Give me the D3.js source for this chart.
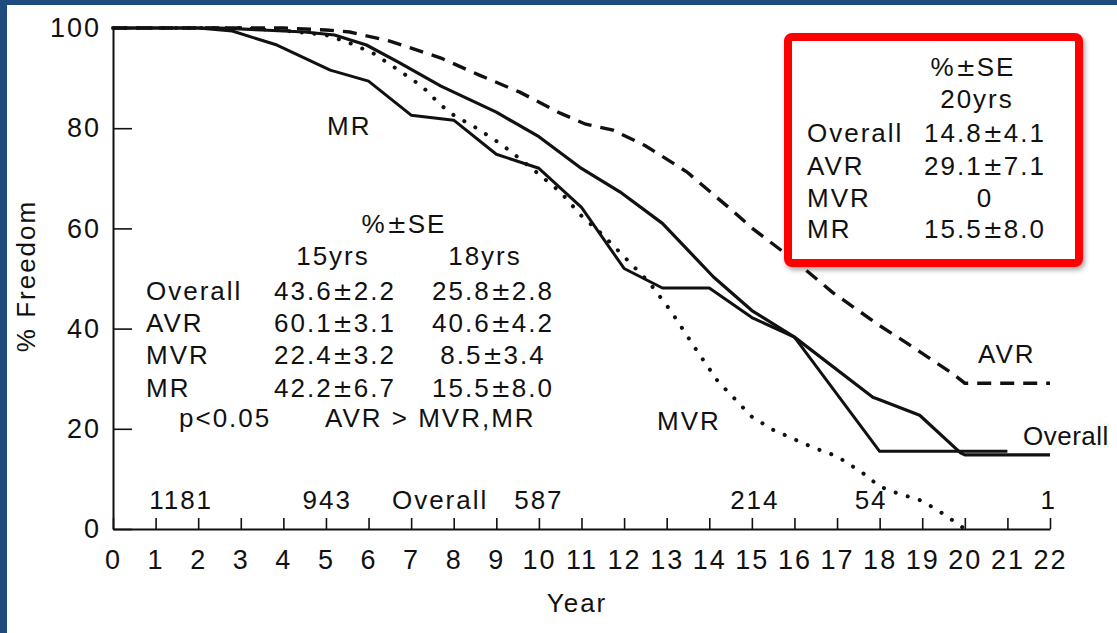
<!DOCTYPE html>
<html>
<head>
<meta charset="utf-8">
<script src="https://cdn.jsdelivr.net/npm/d3@7"></script>
<style>
  html, body { margin: 0; padding: 0; background: #fff; }
  svg text {
    font-family: "Liberation Sans", Arial, Helvetica, sans-serif;
    font-size: 26px;
    fill: #111;
    letter-spacing: 2px;
  }
  svg text .pm { font-family: "DejaVu Sans", sans-serif; font-size: 24px; letter-spacing: 1px; }
</style>
</head>
<body>
<svg id="chart" width="1117" height="633"></svg>
<script>
// ---- data ----------------------------------------------------------------
const yearTicks = d3.range(0, 23);
const pctTicks = [0, 20, 40, 60, 80, 100];

// Kaplan-Meier style freedom curves: [year, % freedom]
const overallCurve = [
  [0, 100], [2.5, 100], [3.5, 99.6], [4.5, 99.2], [5.2, 98.6], [5.95, 96.6],
  [6.7, 93.2], [7.7, 88.4], [9, 83.2], [10, 78.3], [10.96, 72.2], [11.9, 67.3],
  [12.9, 61], [14.1, 50.3], [15, 43.6], [16, 38.3], [17.84, 26.3], [18, 25.8],
  [18.94, 22.7], [19.9, 15.2], [20, 14.8], [22, 14.8]
];
const avrCurve = [
  [0, 100], [4, 100], [5, 99.6], [5.56, 99.2], [6.5, 97.4], [7.7, 94],
  [8.6, 90.6], [9.55, 87.2], [10.5, 83], [11.1, 80.8], [11.74, 79.6],
  [12.5, 76.5], [13.47, 71.3], [14.48, 64], [15, 60.1], [16, 53.6],
  [16.9, 47.2], [18, 40.6], [18.64, 37.1], [19.7, 31.1], [20, 29.1], [22, 29.1]
];
const mvrCurve = [
  [0, 100], [3, 100], [4, 99.5], [5, 98.6], [5.5, 97.2], [6.1, 95], [6.7, 91.6],
  [7.25, 88.4], [7.7, 84.6], [8, 82.6], [8.5, 80.2], [9.08, 77], [9.36, 75.2],
  [9.83, 72], [10.5, 67.3], [11, 62.5], [11.5, 58.7], [12.1, 53.5], [12.6, 49.1],
  [13.1, 43.5], [13.7, 35.7], [14.2, 29.5], [15, 22.4], [15.5, 19.8],
  [16.4, 16.4], [17, 14.5], [17.6, 11.2], [18, 8.5], [18.4, 7.2], [19, 5.6],
  [19.5, 3], [20, 0]
];
const mrCurve = [
  [0, 100], [2, 100], [2.8, 99.4], [3.85, 96.6], [5.1, 91.6], [6, 89.4],
  [7, 82.6], [8, 81.6], [9, 74.8], [10, 72], [11, 64.2], [12, 52],
  [12.9, 48.1], [14, 48.1], [15, 42.2], [16, 38.3], [18, 15.5], [21, 15.5]
];

// numbers at risk along the bottom
const atRiskYear = [1.6, 5.03, 7.68, 10.0, 15.07, 17.8, 21.97];
const atRiskText = ["1181", "943", "Overall", "587", "214", "54", "1"];

// summary tables
const groupNames = ["Overall", "AVR", "MVR", "MR"];
const se15yrs = ["43.6±2.2", "60.1±3.1", "22.4±3.2", "42.2±6.7"];
const se18yrs = ["25.8±2.8", "40.6±4.2", "8.5±3.4", "15.5±8.0"];
const se20yrs = ["14.8±4.1", "29.1±7.1", "0", "15.5±8.0"];

// ---- drawing -------------------------------------------------------------
const svg = d3.select("#chart");

const defs = svg.append("defs");
const shadow = defs.append("filter").attr("id", "boxShadow")
  .attr("x", "-10%").attr("y", "-10%").attr("width", "130%").attr("height", "130%");
shadow.append("feDropShadow")
  .attr("dx", 2).attr("dy", 3).attr("stdDeviation", 2.5)
  .attr("flood-color", "#000").attr("flood-opacity", 0.35);

// slide frame
svg.append("rect").attr("x", 0).attr("y", 0).attr("width", 1117).attr("height", 5).attr("fill", "#1f4b7f");
svg.append("rect").attr("x", 0).attr("y", 0).attr("width", 7).attr("height", 633).attr("fill", "#1f4b7f");

const x = d3.scaleLinear().domain([0, 22]).range([113, 1050]);
const y = d3.scaleLinear().domain([0, 100]).range([529, 28]);

// axes
const xAxis = d3.axisBottom(x).tickValues(yearTicks).tickFormat(d3.format("d"))
  .tickSizeInner(-11).tickSizeOuter(0).tickPadding(21);
const gx = svg.append("g").attr("transform", `translate(0,${y(0)})`).call(xAxis);
gx.select(".domain").attr("stroke", "#111").attr("stroke-width", 2);
gx.selectAll(".tick line").attr("stroke", "#111").attr("stroke-width", 1.6);

const yAxis = d3.axisLeft(y).tickValues(pctTicks).tickFormat(d3.format("d"))
  .tickSizeInner(-19).tickSizeOuter(0).tickPadding(12);
const gy = svg.append("g").attr("transform", `translate(${x(0)},0)`).call(yAxis);
gy.select(".domain").attr("stroke", "#111").attr("stroke-width", 2);
gy.selectAll(".tick line").attr("stroke", "#111").attr("stroke-width", 1.6);

svg.selectAll("g").attr("font-family", null).attr("font-size", null);
svg.selectAll(".tick text").attr("fill", "#111").style("font-size", "27px");

// axis titles
svg.append("text").attr("x", 577).attr("y", 612).attr("text-anchor", "middle").text("Year");
svg.append("text").attr("transform", "translate(35,276) rotate(-90)")
  .attr("text-anchor", "middle").text("% Freedom");

// curves
const line = d3.line().x(d => x(d[0])).y(d => y(d[1]));
const curves = svg.append("g").attr("fill", "none").attr("stroke", "#111");
curves.append("path").datum(mvrCurve).attr("d", line)
  .attr("stroke-width", 4).attr("stroke-linecap", "round").attr("stroke-dasharray", "0.1 12.5");
curves.append("path").datum(avrCurve).attr("d", line)
  .attr("stroke-width", 3.4).attr("stroke-dasharray", "14 9");
curves.append("path").datum(mrCurve).attr("d", line)
  .attr("stroke-width", 3).attr("stroke-linejoin", "round");
curves.append("path").datum(overallCurve).attr("d", line)
  .attr("stroke-width", 3.2).attr("stroke-linejoin", "round");

// curve names
svg.append("text").attr("x", 327).attr("y", 135).text("MR");
svg.append("text").attr("x", 657).attr("y", 430).text("MVR");
svg.append("text").attr("x", 978).attr("y", 363).text("AVR");
svg.append("text").attr("x", 1023).attr("y", 445).style("letter-spacing", "0.5px").text("Overall");

// numbers at risk
svg.append("g").selectAll("text").data(atRiskText).join("text")
  .attr("x", (d, i) => x(atRiskYear[i]))
  .attr("y", 509)
  .attr("text-anchor", "middle")
  .text(d => d);

// text helper: renders "±" with a wider glyph
function pmText(parent, str, px, py, anchor) {
  const t = parent.append("text").attr("x", px).attr("y", py).attr("text-anchor", anchor || "start");
  str.split("±").forEach((part, i) => {
    if (i > 0) t.append("tspan").attr("class", "pm").text("±");
    t.append("tspan").text(part);
  });
  return t;
}

// 15 / 18 year table
const midTable = svg.append("g");
pmText(midTable, "%±SE", 404, 233, "middle");
midTable.append("text").attr("x", 333).attr("y", 265).attr("text-anchor", "middle").text("15yrs");
midTable.append("text").attr("x", 485).attr("y", 265).attr("text-anchor", "middle").text("18yrs");
const midRowY = [300, 332, 364, 397];
groupNames.forEach((g, i) => {
  midTable.append("text").attr("x", 146).attr("y", midRowY[i]).text(g);
  pmText(midTable, se15yrs[i], 274, midRowY[i], "start");
  pmText(midTable, se18yrs[i], 493, midRowY[i], "middle");
});
midTable.append("text").attr("x", 179).attr("y", 427).text("p<0.05");
midTable.append("text").attr("x", 325).attr("y", 427).text("AVR > MVR,MR");

// 20 year box
const box = svg.append("g");
box.append("rect").attr("x", 788).attr("y", 37).attr("width", 291).attr("height", 226)
  .attr("rx", 4).attr("fill", "#fff").attr("stroke", "#ff0000").attr("stroke-width", 8)
  .attr("filter", "url(#boxShadow)");
pmText(box, "%±SE", 973, 76, "middle");
box.append("text").attr("x", 977).attr("y", 108).attr("text-anchor", "middle").text("20yrs");
const boxRowY = [142, 175, 207, 238];
groupNames.forEach((g, i) => {
  box.append("text").attr("x", 807).attr("y", boxRowY[i]).text(g);
  pmText(box, se20yrs[i], 985, boxRowY[i], "middle");
});
</script>
</body>
</html>
